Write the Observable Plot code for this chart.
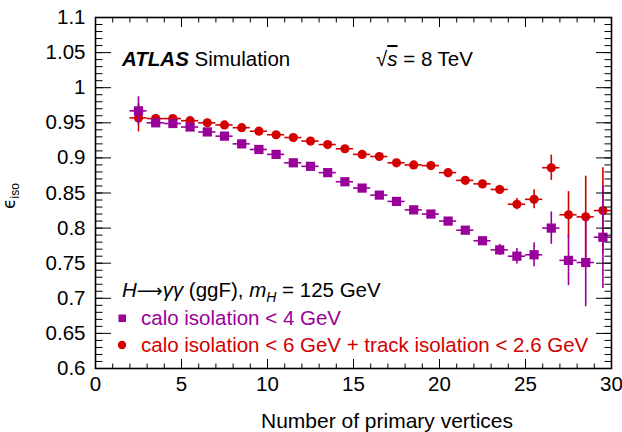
<!DOCTYPE html>
<html><head><meta charset="utf-8">
<script src="https://cdn.jsdelivr.net/npm/d3@7"></script>
<script src="https://cdn.jsdelivr.net/npm/@observablehq/plot@0.6"></script>
<style>body{margin:0;background:#fff}</style>
</head><body><div id="chart"></div>
<script>
// ---- data ----
const nVertices = [2.5,3.5,4.5,5.5,6.5,7.5,8.5,9.5,10.5,11.5,12.5,13.5,14.5,15.5,16.5,17.5,18.5,19.5,20.5,21.5,22.5,23.5,24.5,25.5,26.5,27.5,28.5,29.5];
const effCalo4 = [0.967,0.950,0.949,0.944,0.937,0.931,0.920,0.912,0.905,0.893,0.888,0.879,0.866,0.857,0.847,0.838,0.826,0.820,0.810,0.797,0.782,0.769,0.760,0.762,0.800,0.754,0.751,0.787];
const errCalo4 = [0.020,0.004,0.003,0.003,0.003,0.003,0.003,0.003,0.003,0.003,0.003,0.003,0.003,0.003,0.004,0.004,0.004,0.004,0.004,0.005,0.005,0.008,0.011,0.017,0.023,0.036,0.063,0.073];
const effCaloTrack = [0.957,0.956,0.956,0.953,0.950,0.947,0.943,0.938,0.933,0.929,0.924,0.919,0.913,0.905,0.902,0.893,0.890,0.889,0.879,0.868,0.863,0.855,0.834,0.841,0.886,0.819,0.816,0.825];
const errCaloTrack = [0.020,0.005,0.003,0.003,0.003,0.003,0.003,0.003,0.003,0.003,0.003,0.003,0.003,0.003,0.004,0.004,0.004,0.004,0.004,0.005,0.005,0.006,0.008,0.0135,0.018,0.033,0.058,0.061];
const binHalfWidth = 0.5;
const xMajor = [0,5,10,15,20,25,30];
const xMinor = d3.range(0,31);
const yMajor = [0.6,0.65,0.7,0.75,0.8,0.85,0.9,0.95,1,1.05,1.1];
const yMinor = d3.range(60,111).map(d => d/100);
const seriesNames = ["calo isolation < 4 GeV", "calo isolation < 6 GeV + track isolation < 2.6 GeV"];
const colors = ["#990099", "#d40000"];

const calo4 = nVertices.map((x,i) => ({x, y: effCalo4[i], e: errCalo4[i]}));
const caloTrack = nVertices.map((x,i) => ({x, y: effCaloTrack[i], e: errCaloTrack[i]}));

function errorMarks(data, color, symbol, r) {
  return [
    Plot.ruleY(data, {y: "y", x1: d => d.x - binHalfWidth, x2: d => d.x + binHalfWidth, stroke: color, strokeWidth: 1.6}),
    Plot.ruleX(data, {x: "x", y1: d => d.y - d.e, y2: d => d.y + d.e, stroke: color, strokeWidth: 1.6}),
    Plot.dot(data, {x: "x", y: "y", symbol, r, fill: color, stroke: "none"})
  ];
}

const font = "'Liberation Sans', Arial, Helvetica, sans-serif";
const fmtY = d => String(+d.toFixed(2));
const fs = 20.5;

const plot = Plot.plot({
  width: 622, height: 432,
  marginLeft: 95, marginRight: 11, marginTop: 17, marginBottom: 64,
  style: {fontFamily: font, fontSize: "20px", background: "white", color: "black", overflow: "visible"},
  x: {domain: [0, 30]},
  y: {domain: [0.6, 1.1]},
  marks: [
    ...errorMarks(caloTrack, colors[1], "circle", 4.6),
    ...errorMarks(calo4, colors[0], "square", 5.2),
    Plot.axisX({anchor: "bottom", ticks: xMajor, tickSize: -9, tickPadding: 17, tickFormat: d => String(d), label: null, fontSize: 20.5}),
    Plot.axisX({anchor: "bottom", ticks: xMinor, tickSize: -4.5, tickFormat: () => "", label: null}),
    Plot.axisX({anchor: "top", ticks: xMajor, tickSize: -9, tickFormat: () => "", label: null}),
    Plot.axisX({anchor: "top", ticks: xMinor, tickSize: -4.5, tickFormat: () => "", label: null}),
    Plot.axisY({anchor: "left", ticks: yMajor, tickSize: -16, tickPadding: 26, tickFormat: fmtY, label: null, fontSize: 20.5}),
    Plot.axisY({anchor: "left", ticks: yMinor, tickSize: -7.5, tickFormat: () => "", label: null}),
    Plot.axisY({anchor: "right", ticks: yMajor, tickSize: -16, tickFormat: () => "", label: null}),
    Plot.axisY({anchor: "right", ticks: yMinor, tickSize: -7.5, tickFormat: () => "", label: null}),
    Plot.frame({stroke: "black", strokeWidth: 1.6})
  ]
});

// ---- annotations ----
const svg = d3.select(plot);
const g = svg.append("g").attr("font-family", font).attr("fill", "black").attr("text-anchor", "start");

// ATLAS Simulation
const t1 = g.append("text").attr("x", 122).attr("y", 66).attr("font-size", fs);
t1.append("tspan").attr("font-weight", "bold").attr("font-style", "italic").text("ATLAS");
t1.append("tspan").text(" Simulation");

// sqrt(s) = 8 TeV
const t2 = g.append("text").attr("x", 376).attr("y", 66).attr("font-size", fs);
t2.append("tspan").text("\u221A");
t2.append("tspan").attr("font-style", "italic").attr("text-decoration", "overline").text("s");
t2.append("tspan").text(" = 8 TeV");

// process label
const t3 = g.append("text").attr("x", 122).attr("y", 297).attr("font-size", fs);
t3.append("tspan").attr("font-style", "italic").text("H");
t3.append("tspan").attr("font-family", "'DejaVu Sans', sans-serif").attr("font-size", 18).text("\u27F6");
t3.append("tspan").attr("font-style", "italic").text("\u03B3\u03B3");
t3.append("tspan").text(" (ggF), ");
t3.append("tspan").attr("font-style", "italic").text("m");
t3.append("tspan").attr("font-style", "italic").attr("font-size", 14).attr("dy", 5).text("H");
t3.append("tspan").attr("dy", -5).text(" = 125 GeV");

// legend
const leg = g.append("g");
leg.append("rect").attr("x", 118.5).attr("y", 314.5).attr("width", 7.5).attr("height", 7.5).attr("fill", colors[0]);
leg.append("text").attr("x", 141).attr("y", 325).attr("font-size", fs).attr("fill", colors[0]).text(seriesNames[0]);
leg.append("circle").attr("cx", 122).attr("cy", 345).attr("r", 4.2).attr("fill", colors[1]);
leg.append("text").attr("x", 141).attr("y", 352).attr("font-size", fs).attr("fill", colors[1]).text(seriesNames[1]);

// axis titles
g.append("text").attr("x", 387).attr("y", 428).attr("text-anchor", "middle").attr("font-size", 21).text("Number of primary vertices");
const yt = g.append("text").attr("transform", "translate(15,196) rotate(-90)").attr("text-anchor", "middle").attr("font-size", 15);
yt.append("tspan").attr("font-family", "'DejaVu Sans', sans-serif").attr("font-size", 17).text("\u03F5");
yt.append("tspan").attr("font-size", 12).attr("dy", 4).text("iso");

document.getElementById("chart").appendChild(plot);
</script>
</body></html>
